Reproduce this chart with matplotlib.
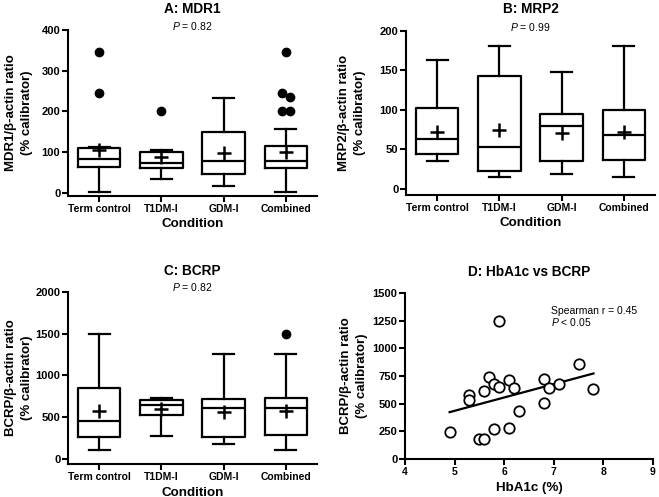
import numpy as np
import matplotlib
matplotlib.use("Agg")
import matplotlib.pyplot as plt

plt.rcParams['font.family'] = ['Liberation Sans', 'DejaVu Sans']
plt.rcParams['mathtext.fontset'] = 'custom'
plt.rcParams['mathtext.it'] = 'Liberation Sans:italic'
plt.rcParams['mathtext.rm'] = 'Liberation Sans'

conditions = ["Term control", "T1DM-I", "GDM-I", "Combined"]

# box stats: whisker low, q1, median, q3, whisker high, mean
mdr1_low = [2, 33, 16, 2]
mdr1_q1 = [64, 62, 46, 60]
mdr1_med = [83, 74, 79, 79]
mdr1_q3 = [109, 101, 150, 115]
mdr1_high = [113, 105, 234, 156]
mdr1_mean = [104, 88, 98, 100]
mdr1_fliers = [[346, 246], [200], [], [346, 246, 236, 200, 200]]
mdr1_flier_dx = [[0, 0], [0], [], [0, -0.06, 0.06, -0.06, 0.06]]

mrp2_low = [35, 15, 19, 15]
mrp2_q1 = [44, 23, 35, 37]
mrp2_med = [63, 53, 79, 68]
mrp2_q3 = [102, 143, 95, 100]
mrp2_high = [163, 181, 148, 181]
mrp2_mean = [72, 74, 71, 72]

bcrp_low = [100, 276, 180, 100]
bcrp_q1 = [260, 520, 260, 280]
bcrp_med = [448, 644, 612, 612]
bcrp_q3 = [852, 700, 720, 732]
bcrp_high = [1496, 728, 1252, 1252]
bcrp_mean = [578, 594, 560, 578]
bcrp_fliers = [[], [], [], [1496]]
bcrp_flier_dx = [[], [], [], [0]]

hba1c = [4.9, 5.3, 5.3, 5.5, 5.6, 5.6, 5.7, 5.8, 5.8, 5.9, 5.9,
         6.1, 6.1, 6.2, 6.3, 6.8, 6.8, 6.9, 7.1, 7.5, 7.8]
bcrp_vals = [240, 574, 535, 180, 180, 610, 745, 676, 270, 655, 1247,
             712, 283, 640, 436, 727, 502, 643, 679, 854, 637]

W, H = 659, 497
fig = plt.figure(figsize=(W / 100, H / 100), dpi=100)

XTICK_FS = 7.5
YTICK_FS = 8
LAB_FS = 9.6
YLAB_FS = 9.5
TITLE_FS = 9.8
NOTE_FS = 7.5


def px_axes(l, t, r, b):
    return fig.add_axes([l / W, 1 - b / H, (r - l) / W, (b - t) / H])


def style(ax):
    for s in ['top', 'right']:
        ax.spines[s].set_visible(False)
    for s in ['left', 'bottom']:
        ax.spines[s].set_linewidth(1.5)
    ax.tick_params(width=1.5, length=4, pad=1.5)
    ax.tick_params(axis='x', labelsize=XTICK_FS)
    ax.tick_params(axis='y', labelsize=YTICK_FS)
    for lab in ax.get_xticklabels() + ax.get_yticklabels():
        lab.set_fontweight('bold')


def ylab(ax, txt, xc):
    # xc: horizontal centre of the label in figure pixels
    ax.set_ylabel(txt, fontsize=YLAB_FS, fontweight='bold', linespacing=1.4,
                  va='center')
    pos = ax.get_position()
    ax.yaxis.set_label_coords((xc / W - pos.x0) / pos.width, 0.5)


def boxpanel(ax, low, q1, med, q3, high, mean, fliers=None, dx=None):
    stats = []
    for i in range(len(conditions)):
        stats.append(dict(whislo=low[i], q1=q1[i], med=med[i], q3=q3[i],
                          whishi=high[i], mean=mean[i], fliers=[], label=conditions[i]))
    lp = dict(color='black', linewidth=1.6)
    ax.bxp(stats, positions=range(len(conditions)), widths=0.68, showmeans=True,
           boxprops=lp, medianprops=lp, whiskerprops=lp, capprops=lp,
           meanprops=dict(marker='+', markersize=10, markeredgewidth=1.8,
                          markeredgecolor='black'),
           showfliers=False)
    if fliers:
        for i, (fl, d) in enumerate(zip(fliers, dx)):
            if fl:
                ax.plot(np.array(d) + i, fl, 'o', color='black', markersize=6, zorder=5)
    ax.set_xlim(-0.5, 3.5)
    ax.set_xlabel("Condition", fontsize=LAB_FS, fontweight='bold', labelpad=3.5)
    style(ax)


# A
axA = px_axes(68, 30, 317, 196)
boxpanel(axA, mdr1_low, mdr1_q1, mdr1_med, mdr1_q3, mdr1_high, mdr1_mean,
         mdr1_fliers, mdr1_flier_dx)
axA.set_ylim(-8, 400)
axA.set_yticks([0, 100, 200, 300, 400])
ylab(axA, "MDR1/β-actin ratio\n(% calibrator)", 19)
axA.set_title("A: MDR1", fontsize=TITLE_FS, fontweight='bold', pad=12)
axA.text(1.5, 410, "$\\mathit{P}$ = 0.82", ha='center', va='center', fontsize=NOTE_FS)
style(axA)

# B
axB = px_axes(406, 31, 655, 195)
boxpanel(axB, mrp2_low, mrp2_q1, mrp2_med, mrp2_q3, mrp2_high, mrp2_mean)
axB.set_ylim(-8, 200)
axB.set_yticks([0, 50, 100, 150, 200])
ylab(axB, "MRP2/β-actin ratio\n(% calibrator)", 352)
axB.set_title("B: MRP2", fontsize=TITLE_FS, fontweight='bold', pad=13)
axB.text(1.5, 205, "$\\mathit{P}$ = 0.99", ha='center', va='center', fontsize=NOTE_FS)
style(axB)

# C
axC = px_axes(68, 292, 317, 464)
boxpanel(axC, bcrp_low, bcrp_q1, bcrp_med, bcrp_q3, bcrp_high, bcrp_mean,
         bcrp_fliers, bcrp_flier_dx)
axC.set_ylim(-64, 2000)
axC.set_yticks([0, 500, 1000, 1500, 2000])
ylab(axC, "BCRP/β-actin ratio\n(% calibrator)", 19)
axC.set_title("C: BCRP", fontsize=TITLE_FS, fontweight='bold', pad=12)
axC.text(1.5, 2060, "$\\mathit{P}$ = 0.82", ha='center', va='center', fontsize=NOTE_FS)
style(axC)

# D
axD = px_axes(405, 293, 653, 459)
axD.plot(hba1c, bcrp_vals, 'o', markerfacecolor='white', markeredgecolor='black',
         markersize=7.5, markeredgewidth=1.3, zorder=3)
slope, icpt = np.polyfit(hba1c, bcrp_vals, 1)
xl = np.array([min(hba1c), max(hba1c)])
axD.plot(xl, slope * xl + icpt, color='black', linewidth=1.6)
axD.set_xlim(4, 9)
axD.set_ylim(0, 1500)
axD.set_xticks([4, 5, 6, 7, 8, 9])
axD.set_yticks([0, 250, 500, 750, 1000, 1250, 1500])
axD.set_xlabel("HbA1c (%)", fontsize=LAB_FS, fontweight='bold', labelpad=3.5)
ylab(axD, "BCRP/β-actin ratio\n(% calibrator)", 354)
axD.set_title("D: HbA1c vs BCRP", fontsize=TITLE_FS, fontweight='bold', pad=12)
axD.text(6.95, 1335, "Spearman r = 0.45", ha='left', va='center', fontsize=NOTE_FS)
axD.text(6.95, 1235, "$\\mathit{P}$ < 0.05", ha='left', va='center', fontsize=NOTE_FS)
style(axD)

fig.savefig("out.png", dpi=100)
